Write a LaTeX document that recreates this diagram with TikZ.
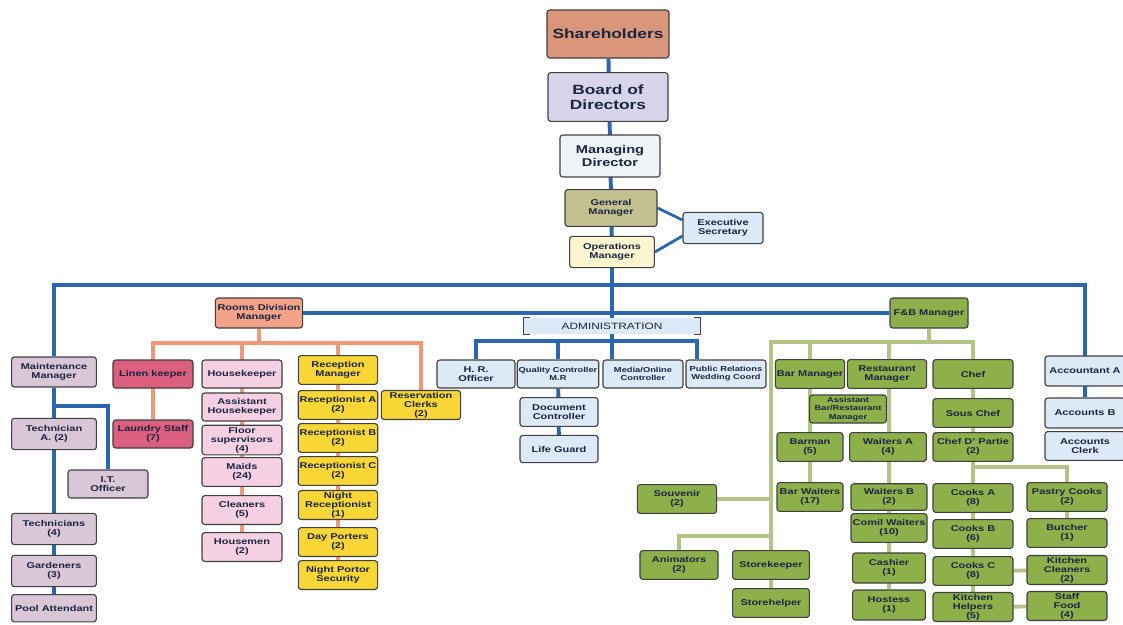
\documentclass[tikz,border=0pt]{standalone}
\usepackage{fontspec}
\setmainfont{Liberation Sans}[FakeStretch=1.3]
\usepackage{tikz}
\usetikzlibrary{positioning, backgrounds}
\definecolor{cText}{HTML}{1C2540}
\definecolor{cShare}{HTML}{D9967B}
\definecolor{cBoard}{HTML}{D8D5EB}
\definecolor{cMD}{HTML}{EEF3F8}
\definecolor{cGM}{HTML}{C3C08F}
\definecolor{cOM}{HTML}{FBF5D0}
\definecolor{cAdm}{HTML}{DCE9F6}
\definecolor{cRooms}{HTML}{F3A488}
\definecolor{cMaint}{HTML}{D9C6D6}
\definecolor{cLinen}{HTML}{DD5F80}
\definecolor{cHouse}{HTML}{F5CFE2}
\definecolor{cRecep}{HTML}{F7D635}
\definecolor{cFB}{HTML}{8DB04A}
\definecolor{cBlue}{HTML}{2B66B1}
\definecolor{cRose}{HTML}{F0987A}
\definecolor{cLeaf}{HTML}{B2C487}
\tikzset{
    post/.style={
           rectangle,
           rounded corners=2pt,
           draw=black!75, line width=0.8pt,
           minimum width=2cm,
           minimum height=0.72cm,
           inner sep=1pt,
           align=center,
           text=cText,
           font=\bfseries\fontsize{6}{6.5}\selectfont,
           },
    tinytext/.style={font=\bfseries\fontsize{5.1}{5.9}\selectfont},
    bigtext/.style={font=\bfseries\fontsize{9.5}{11}\selectfont},
    adminbar/.style={
           rectangle,
           fill=cAdm,
           minimum width=4.4cm,
           minimum height=0.4cm,
           inner sep=0pt,
           text=cText,
           font=\fontsize{6.5}{7}\selectfont,
           },
    bluepil/.style={draw=cBlue, line width=2.8pt},
    rosepil/.style={draw=cRose, line width=2.8pt},
    greenpil/.style={draw=cLeaf, line width=2.8pt},
}

\begin{document}
\begin{tikzpicture}[x=0.025cm, y=-0.025cm]
\useasboundingbox (0,0) rectangle (1123,624);
% TOP OF THE CHART
\node[post, fill=cShare, minimum width=3.05cm, minimum height=1.2cm, bigtext] (SHARE) at (608,34) {Shareholders};
\node[post, fill=cBoard, minimum width=3.0cm, minimum height=1.22cm, bigtext] (BOARD) at (608,97) {Board of\\Directors};
\node[post, fill=cMD, minimum width=2.5cm, minimum height=1.05cm,
font=\bfseries\fontsize{8}{9.5}\selectfont] (MD) at (610,156) {Managing\\Director};
\node[post, fill=cGM, minimum width=2.3cm, minimum height=0.92cm] (GM) at (611,208) {General\\Manager};
\node[post, fill=cOM, minimum width=2.12cm, minimum height=0.78cm] (OM) at (612,252) {Operations\\Manager};
\node[post, fill=cAdm, minimum height=0.78cm] (EXEC) at (723,228) {Executive\\Secretary};
% Division heads
\node[post, fill=cRooms, minimum width=2.18cm, minimum height=0.75cm] (ROOMS) at (259,313) {Rooms Division\\Manager};
\node[post, fill=cFB, minimum width=1.95cm, minimum height=0.75cm] (FB) at (929,313) {F\&B Manager};
\node[adminbar] (ADMIN) at (612,326) {ADMINISTRATION};
\draw[black!75, line width=0.8pt] ([xshift=0.15cm]ADMIN.north west) -- (ADMIN.north west) -- (ADMIN.south west) -- ++(0.15cm,0);
\draw[black!75, line width=0.8pt] ([xshift=-0.15cm]ADMIN.north east) -- (ADMIN.north east) -- (ADMIN.south east) -- ++(-0.15cm,0);
% Maintenance
\node[post, fill=cMaint, minimum width=2.12cm, minimum height=0.75cm] (MAINT) at (54,372) {Maintenance\\Manager};
\node[post, fill=cMaint, minimum width=2.12cm, minimum height=0.78cm] (TECHA) at (54,434) {Technician\\A. (2)};
\node[post, fill=cMaint, minimum height=0.7cm] (ITO) at (108,484) {I.T.\\Officer};
\node[post, fill=cMaint, minimum width=2.12cm, minimum height=0.78cm] (TECHS) at (54,529) {Technicians\\(4)};
\node[post, fill=cMaint, minimum width=2.12cm, minimum height=0.78cm,
below of = TECHS, node distance = 1.05cm] (GARD) {Gardeners\\(3)};
\node[post, fill=cMaint, minimum width=2.12cm, minimum height=0.68cm,
below of = GARD, node distance = 0.93cm] (POOL) {Pool Attendant};
% Linen
\node[post, fill=cLinen, minimum height=0.7cm] (LINEN) at (153,374) {Linen keeper};
\node[post, fill=cLinen, minimum height=0.7cm, below of = LINEN, node distance = 1.5cm] (LAUNDRY) {Laundry Staff\\(7)};
% Housekeeping
\node[post, fill=cHouse, minimum height=0.7cm] (HK) at (242,374) {Housekeeper};
\node[post, fill=cHouse, minimum height=0.7cm, below of = HK, node distance = 0.825cm] (AHK) {Assistant\\Housekeeper};
\node[post, fill=cHouse, minimum height=0.74cm, below of = AHK, node distance = 0.825cm] (FLOOR) {Floor\\supervisors\\(4)};
\node[post, fill=cHouse, minimum height=0.72cm, below of = FLOOR, node distance = 0.8cm] (MAIDS) {Maids\\(24)};
\node[post, fill=cHouse, minimum height=0.72cm, below of = MAIDS, node distance = 0.95cm] (CLEAN) {Cleaners\\(5)};
\node[post, fill=cHouse, minimum height=0.72cm, below of = CLEAN, node distance = 0.925cm] (HOUSEM) {Housemen\\(2)};
% Reception
\node[post, fill=cRecep, minimum width=1.98cm] (RECM) at (338,370) {Reception\\Manager};
\node[post, fill=cRecep, minimum width=1.98cm, below of = RECM, node distance = 0.875cm] (RECA) {Receptionist A\\(2)};
\node[post, fill=cRecep, minimum width=1.98cm, below of = RECA, node distance = 0.825cm] (RECB) {Receptionist B\\(2)};
\node[post, fill=cRecep, minimum width=1.98cm, below of = RECB, node distance = 0.825cm] (RECC) {Receptionist C\\(2)};
\node[post, fill=cRecep, minimum width=1.98cm, below of = RECC, node distance = 0.85cm] (NREC) {Night\\Receptionist\\(1)};
\node[post, fill=cRecep, minimum width=1.98cm, below of = NREC, node distance = 0.925cm] (DAYP) {Day Porters\\(2)};
\node[post, fill=cRecep, minimum width=1.98cm, below of = DAYP, node distance = 0.825cm] (NPORT) {Night Portor\\Security};
\node[post, fill=cRecep, minimum width=1.98cm] (RESV) at (421,405) {Reservation\\Clerks\\(2)};
% Administration
\node[post, fill=cAdm, minimum width=1.95cm, minimum height=0.7cm] (HR) at (476,374) {H. R.\\Officer};
\node[post, fill=cAdm, minimum height=0.7cm, tinytext] (QC) at (558,374) {Quality Controller\\M.R};
\node[post, fill=cAdm, minimum height=0.7cm, tinytext] (MEDIA) at (643,374) {Media/Online\\Controller};
\node[post, fill=cAdm, minimum height=0.7cm, tinytext] (PR) at (726,374) {Public Relations\\Wedding Coord};
\node[post, fill=cAdm, minimum width=1.95cm, minimum height=0.72cm] (DOC) at (559,412) {Document\\Controller};
\node[post, fill=cAdm, minimum width=1.95cm, minimum height=0.68cm] (LIFE) at (559,449) {Life Guard};
% Food and beverage
\node[post, fill=cFB, minimum width=1.65cm] (BARM) at (810,374) {Bar Manager};
\node[post, fill=cFB, minimum width=1.98cm] (RESTM) at (887,374) {Restaurant\\Manager};
\node[post, fill=cFB, minimum width=1.92cm, minimum height=0.7cm, tinytext] (ASST) at (848,409) {Assistant\\Bar/Restaurant\\Manager};
\node[post, fill=cFB, minimum width=1.65cm] (BARMAN) at (810,447) {Barman\\(5)};
\node[post, fill=cFB, minimum width=1.92cm] (WAITA) at (888,447) {Waiters A\\(4)};
\node[post, fill=cFB, minimum width=1.65cm] (BARW) at (810,497) {Bar Waiters\\(17)};
\node[post, fill=cFB, minimum width=1.9cm, minimum height=0.66cm] (WAITB) at (889,497) {Waiters B\\(2)};
\node[post, fill=cFB, minimum width=1.9cm] (COMIL) at (889,528) {Comil Waiters\\(10)};
\node[post, fill=cFB, minimum width=1.82cm, minimum height=0.75cm] (CASH) at (889,568) {Cashier\\(1)};
\node[post, fill=cFB, minimum width=1.82cm, minimum height=0.75cm] (HOST) at (889,605) {Hostess\\(1)};
\node[post, fill=cFB, minimum width=1.98cm] (SOUV) at (677,499) {Souvenir\\(2)};
\node[post, fill=cFB, minimum width=1.95cm] (ANIM) at (679,565) {Animators\\(2)};
\node[post, fill=cFB, minimum width=1.92cm] (STOREK) at (771,565) {Storekeeper};
\node[post, fill=cFB, minimum width=1.92cm] (STOREH) at (771,603) {Storehelper};
\node[post, fill=cFB] (CHEF) at (973,374) {Chef};
\node[post, fill=cFB, below of = CHEF, node distance = 0.975cm] (SOUS) {Sous Chef};
\node[post, fill=cFB, below of = SOUS, node distance = 0.85cm] (CDP) {Chef D' Partie\\(2)};
\node[post, fill=cFB] (COOKA) at (973,498) {Cooks A\\(8)};
\node[post, fill=cFB, below of = COOKA, node distance = 0.9cm] (COOKB) {Cooks B\\(6)};
\node[post, fill=cFB, below of = COOKB, node distance = 0.925cm] (COOKC) {Cooks C\\(8)};
\node[post, fill=cFB, below of = COOKC, node distance = 0.9cm] (KHELP) {Kitchen\\Helpers\\(5)};
\node[post, fill=cFB] (PASTRY) at (1067,497) {Pastry Cooks\\(2)};
\node[post, fill=cFB, below of = PASTRY, node distance = 0.9cm] (BUTCH) {Butcher\\(1)};
\node[post, fill=cFB, below of = BUTCH, node distance = 0.925cm] (KCLEAN) {Kitchen\\Cleaners\\(2)};
\node[post, fill=cFB, below of = KCLEAN, node distance = 0.9cm] (SFOOD) {Staff\\Food\\(4)};
% Accounts
\node[post, fill=cAdm, minimum height=0.75cm] (ACCA) at (1085,371) {Accountant A};
\node[post, fill=cAdm, minimum height=0.75cm] (ACCB) at (1085,413) {Accounts B};
\node[post, fill=cAdm, minimum height=0.72cm] (ACCC) at (1085,446) {Accounts\\Clerk};
% Draw lines on graph
\begin{scope}[on background layer]
\coordinate (mainbus) at (612,285);
\coordinate (adminbus) at (612,341);
\coordinate (roomsbus) at (259,343);
\coordinate (fbbus) at (929,342);
% blue lines
\path (SHARE) edge[bluepil] (OM);
\path (OM.south) edge[bluepil] (ADMIN.north);
\path (ADMIN.south) edge[bluepil] (ADMIN.south |- MEDIA.north);
\draw[bluepil, line width=2pt] (GM.east) -- ([yshift=0.2cm]EXEC.west);
\draw[bluepil, line width=2pt] (OM.east) -- ([yshift=-0.2cm]EXEC.west);
\draw[bluepil] (MAINT.north) |- (mainbus) -| (ACCB);
\path (ROOMS) edge[bluepil] (FB);
\path (MAINT) edge[bluepil] (POOL);
\draw[bluepil] ([yshift=-0.45cm]MAINT.south) -| (ITO);
\draw[bluepil] (HR.north) |- (adminbus) -| ([xshift=-0.72cm]PR.north);
\path (QC.north) edge[bluepil] (QC.north |- adminbus);
\path (QC) edge[bluepil] (LIFE);
% rooms division lines
\path (ROOMS) edge[rosepil] (roomsbus);
\draw[rosepil] (LAUNDRY) |- (roomsbus) -| (RESV.north);
\path (roomsbus -| HOUSEM) edge[rosepil] (HOUSEM);
\path (roomsbus -| NPORT) edge[rosepil] (NPORT);
% food and beverage lines
\path (FB) edge[greenpil] (fbbus);
\draw[greenpil] (STOREK) |- (fbbus) -| (KHELP);
\path (fbbus -| BARW) edge[greenpil] (BARW);
\path (fbbus -| HOST) edge[greenpil] (HOST);
\path (SOUV) edge[greenpil] (SOUV -| STOREK);
\draw[greenpil] (ANIM.north) |- ([yshift=0.35cm]STOREK.north);
\path (STOREK) edge[greenpil] (STOREH);
\draw[greenpil] ([yshift=-0.12cm]CDP.south) -| (BUTCH);
\path (COOKC) edge[greenpil] (KCLEAN);
\path (KHELP) edge[greenpil] (SFOOD);
\end{scope}
\end{tikzpicture}
\end{document}
